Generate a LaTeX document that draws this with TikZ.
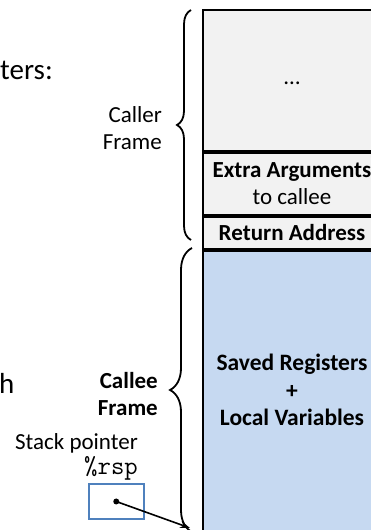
\documentclass[tikz,border=0pt]{standalone}
\usepackage{fontspec}
\setmainfont{Carlito}
\usetikzlibrary{decorations.pathreplacing,arrows.meta}
\definecolor{colgray}{HTML}{F2F2F2}
\definecolor{colblue}{HTML}{C6D9F1}
\definecolor{boxblue}{HTML}{4F81BD}
\begin{document}
\begin{tikzpicture}[x=1pt,y=1pt,
  cell/.style={draw=black, line width=2pt, minimum width=178pt, anchor=north west, inner sep=0pt, align=center,
    font=\fontsize{23}{27}\selectfont},
  lbl/.style={inner sep=0pt, font=\fontsize{23}{27}\selectfont},
  bigtxt/.style={inner sep=0pt, font=\fontsize{29}{34}\selectfont},
  brc/.style={decorate, decoration={brace, amplitude=#1}, line width=1.8pt},
]
\useasboundingbox (0,0) rectangle (371,530);
\clip (0,0) rectangle (371,530);
% stack column
\node[cell, fill=colgray, minimum height=141pt] (dots) at (202,521) {\raisebox{-8pt}{\dots}};
\node[cell, fill=colgray, minimum height=62pt] (extra) at (dots.south west) {\textbf{Extra Arguments}\\to callee};
\node[cell, fill=colgray, minimum height=32pt] (ret) at (extra.south west) {\textbf{Return Address}};
\node[cell, fill=colblue, minimum height=300pt] (saved) at (ret.south west) {};
\node[inner sep=0pt, align=center, font=\bfseries\fontsize{23.5}{27.5}\selectfont] (savedtxt)
  at ([yshift=11pt]saved.center) {Saved Registers\\+\\Local Variables};
% partial slide text
\node[bigtxt, anchor=base west] (ters) at (0,450) {ters:};
\node[bigtxt, anchor=base west] (hh) at (-1,136) {h};
% braces
\draw[brc=14pt] (191,290) -- (191,520);
\draw[brc=22pt] (192,-2) -- (192,282);
\node[lbl, anchor=east, align=right] (caller) at (162,402) {Caller\\Frame};
\node[lbl, anchor=east, align=right, font=\bfseries\fontsize{23}{27}\selectfont] (callee) at (158,136) {Callee\\Frame};
% stack pointer
\node[lbl, anchor=base] (sp) at (76.5,80) {Stack pointer};
\node[lbl, anchor=base, font=\ttfamily\fontsize{26}{30}\selectfont] (rspname) at (111,55) {\%rsp};
\node[draw=boxblue, line width=2pt, minimum width=55.5pt, minimum height=35pt, inner sep=0pt] (rsp) at (116.25,28.5) {};
\fill (rsp.center) circle (3pt);
\coordinate (tipend) at (190,2);
\draw[-{Stealth[length=10pt,width=7pt]}, line width=1.6pt] (rsp.center) -- (tipend);
\end{tikzpicture}
\end{document}
